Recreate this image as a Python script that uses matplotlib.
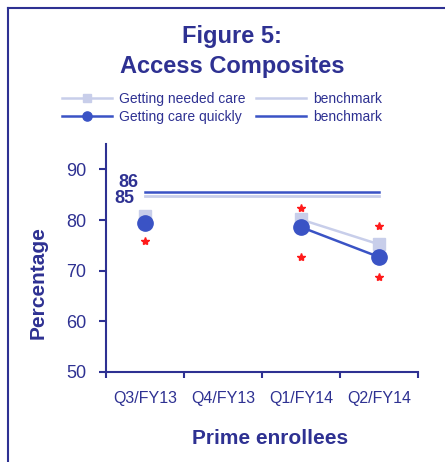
import numpy as np
import matplotlib
matplotlib.use("Agg")
import matplotlib.pyplot as plt

# data
quarters = ["Q3/FY13", "Q4/FY13", "Q1/FY14", "Q2/FY14"]
needed_care = [80.7, np.nan, 80.1, 75.2]
care_quickly = [79.4, np.nan, 78.6, 72.7]
bench_needed = 84.7
bench_quickly = 85.5
bench_labels = ["85", "86"]
star_x = [0, 2, 2, 3, 3]
star_y = [75.8, 82.3, 72.7, 78.8, 68.7]
yticks = [50, 60, 70, 80, 90]

navy = "#2E3192"
dark = "#3A53C5"
light = "#C8CEEA"

plt.rcParams["font.family"] = ["Liberation Sans", "DejaVu Sans"]

W, H = 445, 462
fig = plt.figure(figsize=(W / 100, H / 100), dpi=100)

# outer frame: only left and top edges fall inside the picture
fig.add_artist(plt.Line2D([8 / W, 8 / W], [0, 1 - 8 / H], transform=fig.transFigure,
                          color=navy, lw=1.5))
fig.add_artist(plt.Line2D([8 / W, 1], [1 - 8 / H, 1 - 8 / H], transform=fig.transFigure,
                          color=navy, lw=1.5))

ax = fig.add_axes([106 / W, 1 - 372 / H, (418 - 106) / W, (372 - 144) / H])
x = np.arange(len(quarters))

ax.plot([0, 3], [bench_needed] * 2, color=light, lw=2)
ax.plot([0, 3], [bench_quickly] * 2, color=dark, lw=1.8)

l1, = ax.plot(x, needed_care, color=light, lw=1.8, marker="s", ms=8.5,
              mfc=light, mec=light)
l2, = ax.plot(x, care_quickly, color=dark, lw=1.8, marker="o", ms=11,
              mfc=dark, mec=dark)
ax.plot(star_x, star_y, ls="none", marker="*", ms=6, color="#FF1A1A", mec="#FF1A1A")

ax.annotate(bench_labels[1], (0, bench_quickly), xytext=(-5, 7), textcoords="offset points",
            ha="right", va="center", fontsize=13, fontweight="bold", color=navy)
ax.annotate(bench_labels[0], (0, bench_needed), xytext=(-8, -1.5), textcoords="offset points",
            ha="right", va="center", fontsize=13, fontweight="bold", color=navy)

ax.set_xlim(-0.5, 3.5)
ax.set_ylim(50, 95)
ax.set_yticks(yticks)
ax.set_xticks(np.arange(-0.5, 4, 1))
ax.set_xticklabels([])
ax.set_xticks(x, minor=True)
ax.set_xticklabels(quarters, minor=True, fontsize=11.5, color=navy)
ax.tick_params(axis="x", which="minor", length=0, pad=14)
ax.tick_params(axis="x", which="major", length=4, width=1.5, color=navy)
ax.tick_params(axis="y", length=5, width=1.5, color=navy, labelcolor=navy,
               labelsize=13, pad=9)
for s in ["top", "right"]:
    ax.spines[s].set_visible(False)
for s in ["left", "bottom"]:
    ax.spines[s].set_color(navy)
    ax.spines[s].set_linewidth(1.5)

# legend
h1 = plt.Line2D([], [], color=light, lw=1.8)
h2 = plt.Line2D([], [], color=dark, lw=1.8)
fig.legend([l1, l2, h1, h2],
           ["Getting needed care", "Getting care quickly", "benchmark", "benchmark"],
           ncol=2, loc="center", bbox_to_anchor=(222 / W, 1 - 108 / H),
           frameon=False, fontsize=10, handlelength=3.6, handletextpad=0.5,
           columnspacing=0.8, labelspacing=0.3, labelcolor=navy, markerscale=0.6)

fig.text(232 / W, 1 - 37 / H, "Figure 5:", ha="center", va="center",
         fontsize=17, fontweight="bold", color=navy)
fig.text(232 / W, 1 - 67 / H, "Access Composites", ha="center", va="center",
         fontsize=17, fontweight="bold", color=navy)
fig.text(38 / W, 1 - 283 / H, "Percentage", rotation=90, ha="center", va="center",
         fontsize=15, fontweight="bold", color=navy)
fig.text(270 / W, 1 - 439 / H, "Prime enrollees", ha="center", va="center",
         fontsize=15, fontweight="bold", color=navy)

fig.savefig("out.png", dpi=100)
